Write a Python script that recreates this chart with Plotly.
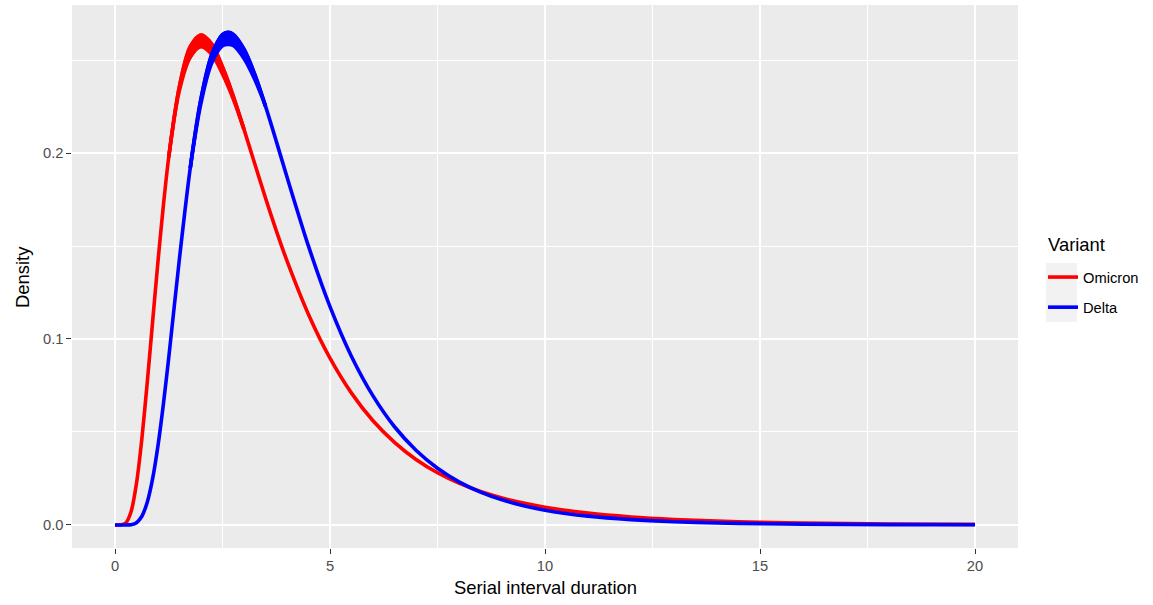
import plotly.graph_objects as go

# ---- data ----
x_vals = [0, 0.125, 0.25, 0.375, 0.5, 0.625, 0.75, 0.875, 1, 1.125, 1.25, 1.5, 1.75, 2,
          2.25, 2.5, 2.625, 2.75, 3, 3.25, 3.5, 3.75, 4, 4.5, 5, 5.5, 6, 6.5, 7, 7.5, 8,
          8.5, 9, 9.5, 10, 11, 12, 13, 14, 15, 16, 18, 20]
omicron = [0, 0.00001, 0.00104, 0.00725, 0.0224, 0.0464, 0.0766, 0.1094, 0.1418, 0.1718,
           0.1978, 0.2360, 0.2572, 0.2634, 0.2586, 0.2463, 0.2390, 0.2306, 0.2127, 0.1942,
           0.1758, 0.1583, 0.1420, 0.1132, 0.0897, 0.0709, 0.0560, 0.0444, 0.0352, 0.02807,
           0.02245, 0.01801, 0.01452, 0.01175, 0.00954, 0.00637, 0.00431, 0.00296, 0.00206,
           0.00145, 0.00104, 0.000544, 0.000297]
delta = [0, 0, 0.000005, 0.00016, 0.00121, 0.00468, 0.01222, 0.0249, 0.0427, 0.0649,
         0.0900, 0.1435, 0.1920, 0.2292, 0.2529, 0.2637, 0.2649, 0.2638, 0.2558, 0.2423,
         0.2252, 0.2064, 0.1871, 0.1499, 0.1174, 0.0906, 0.0694, 0.0528, 0.0402, 0.0305,
         0.0232, 0.01768, 0.0135, 0.01034, 0.00794, 0.00473, 0.00286, 0.00175, 0.00109,
         0.000685, 0.000437, 0.000184, 0.0000818]

# lower edge of the spread of curves near each peak
omicron_peak_x = [1.25, 1.5, 1.75, 2, 2.25, 2.5, 2.75, 3]
omicron_peak_lo = [0.1978, 0.2338, 0.2515, 0.2572, 0.2530, 0.2425, 0.2290, 0.2127]
delta_peak_x = [1.75, 2, 2.25, 2.5, 2.625, 2.75, 3, 3.25, 3.5]
delta_peak_lo = [0.1918, 0.2268, 0.2484, 0.2576, 0.2584, 0.2578, 0.2508, 0.2395, 0.2252]

variants = ["Omicron", "Delta"]
colors = {"Omicron": "#FF0000", "Delta": "#0000FF"}

x_ticks = [0, 5, 10, 15, 20]
y_ticks = [0.0, 0.1, 0.2]

series = {
    "Omicron": (omicron, omicron_peak_x, omicron_peak_lo),
    "Delta": (delta, delta_peak_x, delta_peak_lo),
}

fig = go.Figure()
LW = 3.6
for v in variants:
    yv, px, plo = series[v]
    c = colors[v]
    hi = [yv[x_vals.index(p)] for p in px]
    fig.add_trace(go.Scatter(
        x=px, y=plo, mode="lines", line=dict(color=c, width=LW, shape="spline"),
        showlegend=False, hoverinfo="skip"))
    fig.add_trace(go.Scatter(
        x=px, y=hi, mode="lines", fill="tonexty", fillcolor=c,
        line=dict(color=c, width=LW, shape="spline"),
        showlegend=False, hoverinfo="skip"))
    fig.add_trace(go.Scatter(
        x=x_vals, y=yv, mode="lines", name=v, legendgroup=v,
        line=dict(color=c, width=LW, shape="spline", smoothing=0.8)))

font_family = "Liberation Sans, Arial, sans-serif"
L, R, T, B = 72, 135, 5, 57
W, H = 1153, 605
pw, ph = W - L - R, H - T - B
TITLE = 18.4
TEXT = 14.7


def px2x(p):
    return (p - L) / pw


def py2y(p):
    return (H - B - p) / ph


axis_common = dict(
    showgrid=True, gridcolor="white", gridwidth=1.8,
    zeroline=False, showline=False, automargin=False,
    ticks="outside", ticklen=4.6, tickcolor="#333333", tickwidth=1.1,
    tickfont=dict(size=TEXT, color="#4D4D4D"),
)

fig.update_layout(
    width=W, height=H,
    margin=dict(l=L, r=R, t=T, b=B, autoexpand=False),
    paper_bgcolor="white", plot_bgcolor="#EBEBEB",
    font=dict(family=font_family, color="#000000"),
    showlegend=True,
    legend=dict(
        font=dict(size=TEXT, color="#000000"),
        x=px2x(1043), y=py2y(261), xanchor="left", yanchor="top",
        bgcolor="rgba(0,0,0,0)", tracegroupgap=8, traceorder="grouped",
        itemwidth=30,
    ),
    xaxis=dict(
        range=[-1, 21], tickvals=x_ticks, ticktext=[str(t) for t in x_ticks],
        minor=dict(dtick=2.5, tick0=0, showgrid=True, gridcolor="white", gridwidth=0.9),
        **axis_common,
    ),
    yaxis=dict(
        range=[-0.0124, 0.2796], tickvals=y_ticks, ticktext=["0.0", "0.1", "0.2"],
        minor=dict(dtick=0.05, tick0=0, showgrid=True, gridcolor="white", gridwidth=0.9),
        **axis_common,
    ),
    shapes=[dict(type="rect", xref="paper", yref="paper",
                 x0=px2x(1046), x1=px2x(1077), y0=py2y(322), y1=py2y(263),
                 fillcolor="#F2F2F2", line=dict(width=0), layer="below")],
    annotations=[
        dict(text="Serial interval duration", xref="paper", yref="paper",
             x=px2x(545), y=py2y(587), xanchor="center", yanchor="middle",
             showarrow=False, font=dict(size=TITLE, color="#000000")),
        dict(text="Density", xref="paper", yref="paper", textangle=-90,
             x=px2x(22), y=py2y(277), xanchor="center", yanchor="middle",
             showarrow=False, font=dict(size=TITLE, color="#000000")),
        dict(text="Variant", xref="paper", yref="paper",
             x=px2x(1046), y=py2y(244), xanchor="left", yanchor="middle",
             showarrow=False, font=dict(size=TITLE, color="#000000")),
    ],
)

fig.write_html("out.html", config={"displayModeBar": False},
               post_script="document.body.style.margin='0';document.body.style.overflow='hidden';")
